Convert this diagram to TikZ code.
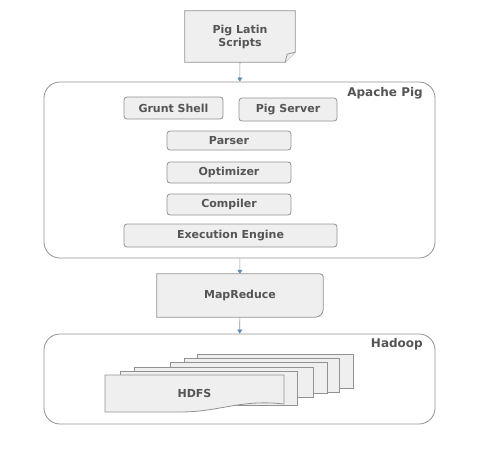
\documentclass[tikz,border=0pt]{standalone}
\usepackage{fontspec}
\setmainfont{DejaVu Sans}
\usetikzlibrary{positioning, arrows.meta}
\definecolor{boxfill}{HTML}{EFEFEF}
\definecolor{boxline}{HTML}{929292}
\definecolor{labeltext}{HTML}{555555}
\definecolor{tipblue}{HTML}{5B8DB8}
\tikzset{x=1pt, y=-1pt, >={Triangle[length=4pt, width=5pt, color=tipblue]},
    box/.style={draw=boxline, fill=boxfill, line width=0.8pt, rounded corners=3pt,
        font=\fontsize{11}{13}\selectfont\bfseries, text=labeltext, inner sep=0pt},
    plain/.style={font=\fontsize{11}{13}\selectfont\bfseries, text=labeltext, inner sep=0pt},
    frame/.style={draw=boxline, line width=0.8pt, rounded corners=16pt,
        minimum width=391pt, inner sep=0pt},
    sheet/.style={draw=boxline, fill=boxfill, line width=0.8pt},
    flow/.style={->, draw=boxline, line width=0.7pt}}

\begin{document}
\begin{tikzpicture}
    \useasboundingbox (0,0) rectangle (485,461);
    % script document with folded corner
    \node[plain, align=center, minimum width=110pt, minimum height=51pt] (scripts) at (240,36.5) {};
    \draw[sheet] (scripts.north west) -- (scripts.north east) -- ([yshift=10pt]scripts.south east)
        -- ([xshift=-10pt]scripts.south east) -- (scripts.south west) -- cycle;
    \draw[sheet] ([yshift=10pt]scripts.south east) -- ([xshift=-8pt, yshift=8pt]scripts.south east)
        -- ([xshift=-10pt]scripts.south east);
    \node[plain, align=center] (scripts-text) at (scripts) {Pig Latin\\Scripts};
    % apache pig
    \node[frame, minimum height=176pt] (pig) at (239.5,170) {};
    \node[plain, font=\bfseries\large, anchor=north east] (pig-label) at (423,87) {Apache Pig};
    \node[box, minimum width=99pt, minimum height=22pt] (grunt-shell) at (173.5,108) {Grunt Shell};
    \node[box, minimum width=98pt, minimum height=23pt] (pig-server) at (288,109.5) {Pig Server};
    \node[box, minimum width=124pt, minimum height=19pt] (parser) at (229,140.5) {Parser};
    \node[box, minimum width=124pt, minimum height=21pt] (optimizer) at (229,172.5) {Optimizer};
    \node[box, minimum width=124pt, minimum height=21pt] (compiler) at (229,204.5) {Compiler};
    \node[box, minimum width=213pt, minimum height=23pt] (engine) at (230.5,235.5) {Execution Engine};
    % mapreduce
    \node[plain, minimum width=166pt, minimum height=43pt] (mapreduce) at (240,295.5) {};
    \fill[boxfill] (mapreduce.north west) -- (mapreduce.north east) -- (mapreduce.south east)
        -- (mapreduce.south west) -- cycle;
    \draw[boxline, line width=0.8pt] (mapreduce.north west) [rounded corners=3pt] -- (mapreduce.north east)
        [rounded corners=8pt] -- (mapreduce.south east) [sharp corners] -- (mapreduce.south west) -- cycle;
    \node[plain] (mapreduce-text) at (mapreduce) {MapReduce};
    % hadoop
    \node[frame, minimum height=90pt] (hadoop) at (239.5,379) {};
    \node[plain, font=\bfseries\large, anchor=north east] (hadoop-label) at (423,338) {Hadoop};
    \foreach \l/\r/\t/\b in {197/353/354/388, 184/339/358/392, 170/327/362/393, 134/313/367/397, 120/297/371/405}
        \draw[sheet] (\l,\t) rectangle (\r,\b);
    \draw[sheet] (105,375) -- (284,375) -- (284,404) .. controls (240,399) and (220,412) .. (180,412) -- (105,412) -- cycle;
    \node[plain] (hdfs) at (194.5,393) {HDFS};
    % flow
    \draw[flow] (scripts) -- (pig);
    \draw[flow] (pig) -- (mapreduce);
    \draw[flow] (mapreduce) -- (hadoop);
\end{tikzpicture}
\end{document}
